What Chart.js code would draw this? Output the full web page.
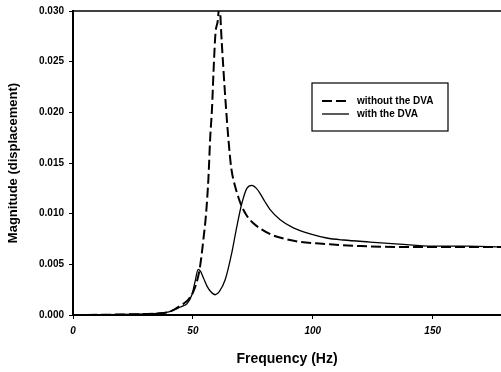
<!DOCTYPE html>
<html>
<head>
<meta charset="utf-8">
<script src="https://cdn.jsdelivr.net/npm/chart.js@4/dist/chart.umd.min.js"></script>
<style>
  html, body { margin: 0; padding: 0; background: #fff; }
  #wrap { width: 501px; height: 372px; }
</style>
</head>
<body>
<div id="wrap"><canvas id="frf"></canvas></div>
<script>
// Valeurs
const xTicks = [0, 50, 100, 150];
const yTicks = [0, 0.005, 0.010, 0.015, 0.020, 0.025, 0.030];

const freqSans = [0, 10, 20, 30, 35, 40, 42, 44, 46, 48, 50, 52, 53, 54.5, 55.5, 56.5, 57.2, 58, 58.6, 59.5, 60.7, 61, 61.4, 62.8, 63.8, 64.8, 66, 67.5, 69, 70.4, 72.5, 75, 79, 83, 87, 95, 106, 120, 140, 178.5];
const magSans = [0, 0.00002, 0.00005, 0.0001, 0.00015, 0.0003, 0.0005, 0.0008, 0.0011, 0.0015, 0.0022, 0.0036, 0.0048, 0.0077, 0.0100, 0.0136, 0.0174, 0.0205, 0.0240, 0.0280, 0.0300, 0.0330, 0.0300, 0.0240, 0.0205, 0.0174, 0.0145, 0.0128, 0.0116, 0.0107, 0.0098, 0.0091, 0.0084, 0.0079, 0.0076, 0.0072, 0.0070, 0.0068, 0.0067, 0.0067];

const freqAvec = [0, 10, 20, 30, 35, 40, 42, 44, 46, 47.5, 49.6, 51, 52.2, 53.2, 54.5, 56, 57.5, 59.3, 61, 63.5, 66.2, 68.3, 70.4, 72.5, 74.6, 76.5, 78, 80, 82.2, 86.4, 91.9, 98.9, 105.8, 112.8, 123.9, 136, 150, 165, 178.5];
const magAvec = [0, 0.00002, 0.00005, 0.0001, 0.00015, 0.0003, 0.0005, 0.0007, 0.0009, 0.0011, 0.0020, 0.0034, 0.0045, 0.0043, 0.0036, 0.0028, 0.0023, 0.0020, 0.0023, 0.0035, 0.0061, 0.0087, 0.0110, 0.0125, 0.0128, 0.0125, 0.0120, 0.0112, 0.0104, 0.0094, 0.0086, 0.0080, 0.0076, 0.0074, 0.0072, 0.0070, 0.0068, 0.0068, 0.0067];

const seriesLabels = ['without the DVA', 'with the DVA'];

const toPoints = (xs, ys) => xs.map((x, i) => ({ x: x, y: ys[i] }));

// Cadre du haut + légende dans la zone de tracé
const framePlugin = {
    id: 'frame',
    afterDraw(chart) {
        const { ctx, chartArea } = chart;
        ctx.save();
        ctx.strokeStyle = '#000';
        ctx.lineWidth = 1.5;
        ctx.beginPath();
        ctx.moveTo(chartArea.left, chartArea.top);
        ctx.lineTo(chartArea.right, chartArea.top);
        ctx.stroke();

        // Légende
        const bx = 312, by = 83, bw = 136, bh = 48;
        ctx.lineWidth = 1.2;
        ctx.fillStyle = '#fff';
        ctx.fillRect(bx, by, bw, bh);
        ctx.strokeRect(bx, by, bw, bh);
        ctx.font = 'bold 10px "Liberation Sans", Arial, sans-serif';
        ctx.textBaseline = 'middle';
        chart.data.datasets.forEach((ds, i) => {
            const y = by + 18 + i * 13;
            ctx.beginPath();
            ctx.lineWidth = ds.borderWidth;
            ctx.setLineDash(ds.borderDash || []);
            ctx.moveTo(bx + 10, y);
            ctx.lineTo(bx + 37, y);
            ctx.stroke();
            ctx.setLineDash([]);
            ctx.fillStyle = '#000';
            ctx.fillText(ds.label, bx + 45, y);
        });
        ctx.restore();
    }
};

new Chart(document.getElementById('frf'), {
    type: 'line',
    data: {
        datasets: [
            {
                label: seriesLabels[0],
                data: toPoints(freqSans, magSans),
                borderColor: '#000',
                borderWidth: 2,
                borderDash: [10, 4],
                pointRadius: 0,
                cubicInterpolationMode: 'monotone'
            },
            {
                label: seriesLabels[1],
                data: toPoints(freqAvec, magAvec),
                borderColor: '#000',
                borderWidth: 1.3,
                pointRadius: 0,
                cubicInterpolationMode: 'monotone'
            }
        ]
    },
    options: {
        responsive: true,
        maintainAspectRatio: false,
        animation: false,
        layout: { padding: { top: 11, right: 0, left: 2, bottom: 0 } },
        plugins: {
            legend: { display: false },
            tooltip: { enabled: false }
        },
        scales: {
            x: {
                type: 'linear',
                min: 0,
                max: 178.5,
                afterBuildTicks: (scale) => { scale.ticks = xTicks.map(v => ({ value: v })); },
                afterFit: (scale) => { scale.height = 57; },
                border: { color: '#000', width: 2 },
                grid: { display: true, drawOnChartArea: false, drawTicks: true, tickLength: 4, color: '#000' },
                ticks: {
                    color: '#000',
                    padding: 6,
                    maxRotation: 0,
                    font: { family: '"Liberation Sans", Arial, sans-serif', size: 10, weight: 'bold', style: 'italic' }
                },
                title: {
                    display: true,
                    text: 'Frequency (Hz)',
                    color: '#000',
                    padding: { top: 4, bottom: 4 },
                    font: { family: '"Liberation Sans", Arial, sans-serif', size: 14, weight: 'bold' }
                }
            },
            y: {
                min: 0,
                max: 0.03,
                afterBuildTicks: (scale) => { scale.ticks = yTicks.map(v => ({ value: v })); },
                afterFit: (scale) => { scale.width = 71; },
                border: { color: '#000', width: 2 },
                grid: { display: true, drawOnChartArea: false, drawTicks: true, tickLength: 4, color: '#000' },
                ticks: {
                    color: '#000',
                    padding: 5,
                    callback: (v) => Number(v).toFixed(3),
                    font: { family: '"Liberation Sans", Arial, sans-serif', size: 10, weight: 'bold' }
                },
                title: {
                    display: true,
                    text: 'Magnitude (displacement)',
                    color: '#000',
                    padding: { top: 4, bottom: 4 },
                    font: { family: '"Liberation Sans", Arial, sans-serif', size: 13, weight: 'bold' }
                }
            }
        }
    },
    plugins: [framePlugin]
});
</script>
</body>
</html>
